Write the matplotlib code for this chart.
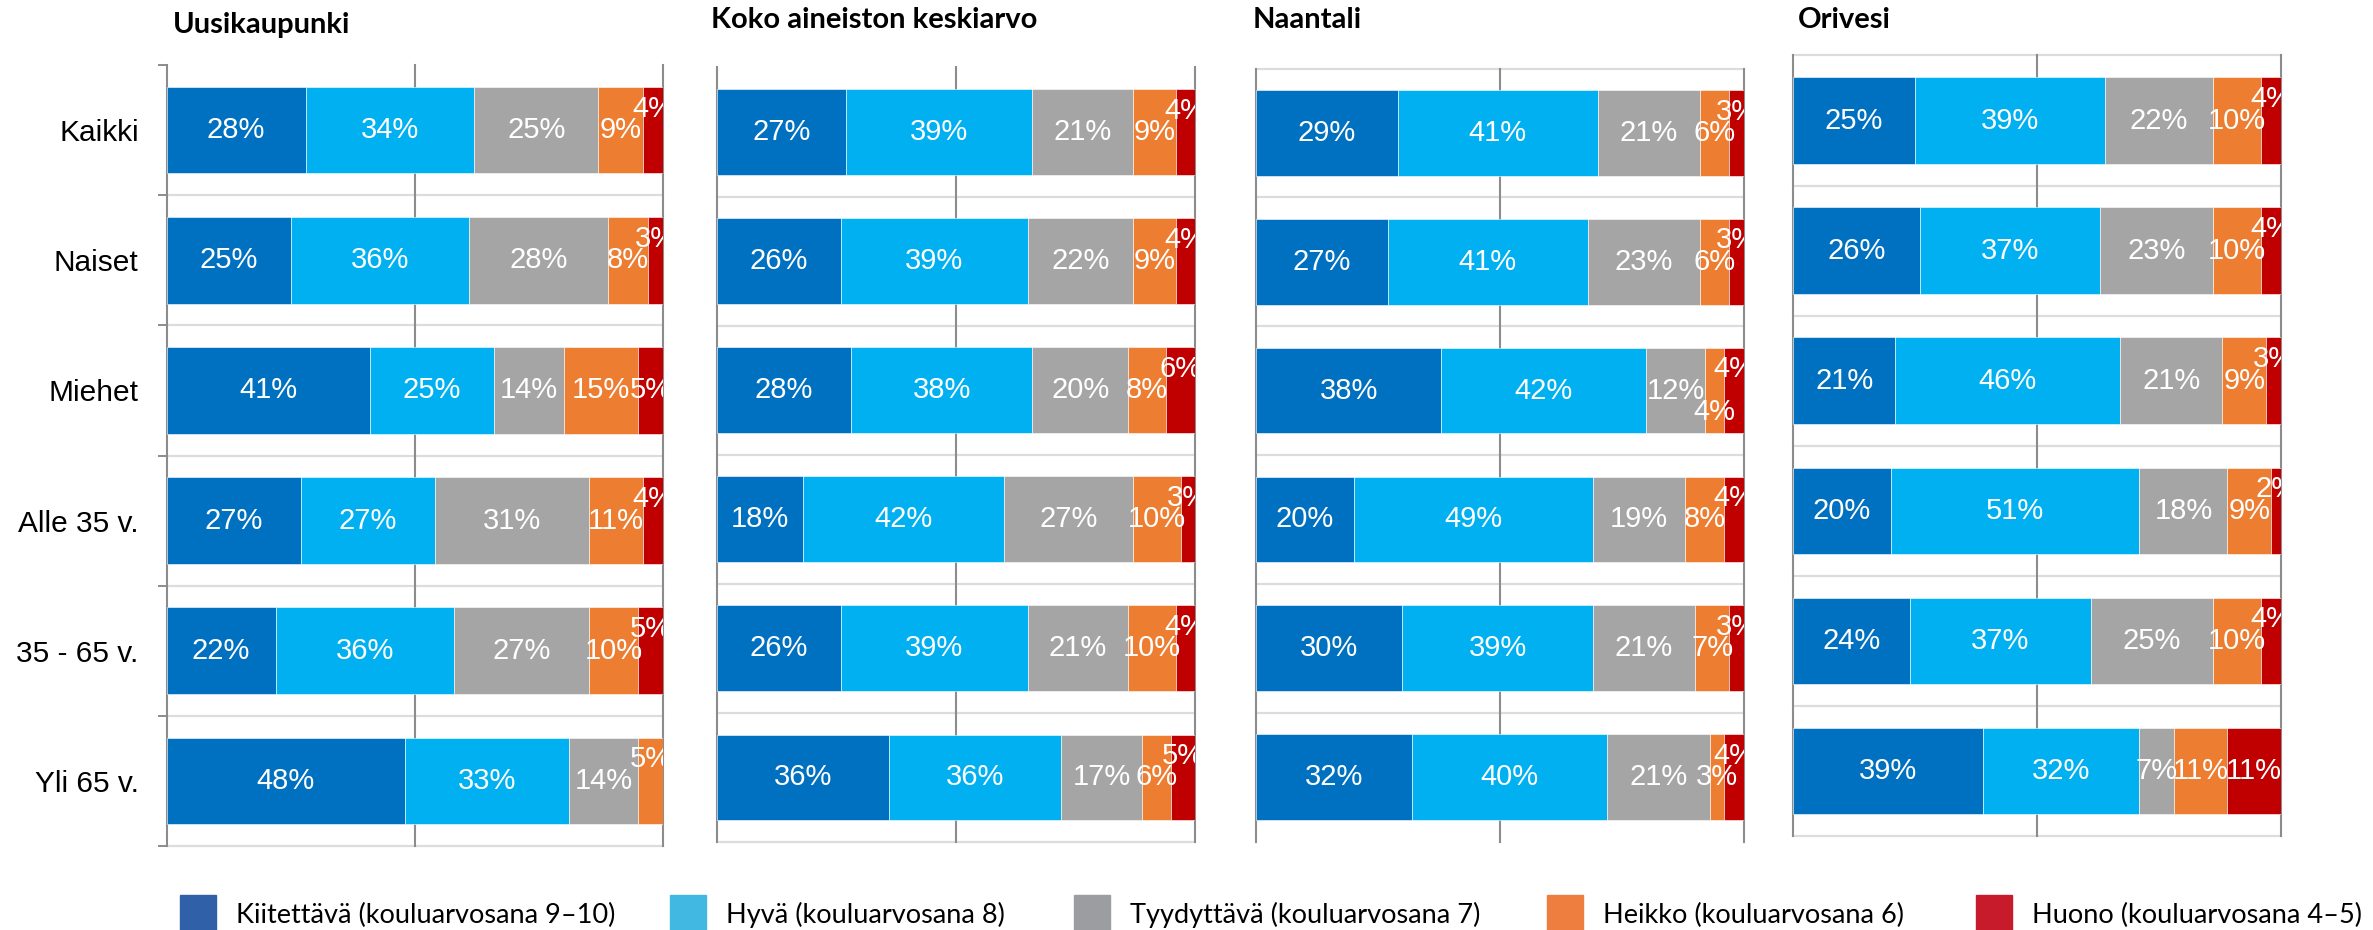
import numpy as np
import matplotlib.pyplot as plt
from matplotlib.patches import Rectangle

plt.rcParams['font.family'] = ['Liberation Sans', 'DejaVu Sans']

# Data
ryhmat = ['Kaikki', 'Naiset', 'Miehet', 'Alle 35 v.', '35 - 65 v.', 'Yli 65 v.']
luokat = ['Kiitettävä (kouluarvosana 9–10)', 'Hyvä (kouluarvosana 8)',
          'Tyydyttävä (kouluarvosana 7)', 'Heikko (kouluarvosana 6)',
          'Huono (kouluarvosana 4–5)']

otsikot = ['Uusikaupunki', 'Koko aineiston keskiarvo', 'Naantali', 'Orivesi']

uusikaupunki = [
    [28, 25, 41, 27, 22, 48],
    [34, 36, 25, 27, 36, 33],
    [25, 28, 14, 31, 27, 14],
    [9, 8, 15, 11, 10, 5],
    [4, 3, 5, 4, 5, 0],
]
koko = [
    [27, 26, 28, 18, 26, 36],
    [39, 39, 38, 42, 39, 36],
    [21, 22, 20, 27, 21, 17],
    [9, 9, 8, 10, 10, 6],
    [4, 4, 6, 3, 4, 5],
]
naantali = [
    [29, 27, 38, 20, 30, 32],
    [41, 41, 42, 49, 39, 40],
    [21, 23, 12, 19, 21, 21],
    [6, 6, 4, 8, 7, 3],
    [3, 3, 4, 4, 3, 4],
]
orivesi = [
    [25, 26, 21, 20, 24, 39],
    [39, 37, 46, 51, 37, 32],
    [22, 23, 21, 18, 25, 7],
    [10, 10, 9, 9, 10, 11],
    [4, 4, 3, 2, 4, 11],
]
aineistot = [uusikaupunki, koko, naantali, orivesi]

# labels that Excel nudged up (-1) or down (+1): (row, series)
siirrot = [
    {(0, 4): -1, (1, 4): -1, (3, 4): -1, (4, 4): -1, (5, 3): -1},
    {(r, 4): -1 for r in range(6)},
    {(0, 4): -1, (1, 4): -1, (2, 4): -1, (2, 3): 1, (3, 4): -1, (4, 4): -1, (5, 4): -1},
    {(0, 4): -1, (1, 4): -1, (2, 4): -1, (3, 4): -1, (4, 4): -1},
]

palkki_varit = ['#0070C0', '#00B0F0', '#A5A5A5', '#ED7D31', '#C00000']
selite_varit = ['#3060A8', '#40B8E2', '#9C9DA0', '#EE7D40', '#C71A2B']

W, H = 2373, 930
fig = plt.figure(figsize=(W / 100, H / 100), dpi=100)

# plot boxes in pixels: left, right, top, bottom
laatikot = [(166.5, 663, 65, 846), (717, 1195, 67.5, 842),
            (1256, 1744, 68.5, 841.5), (1793, 2281, 55.5, 836)]
otsikko_paikat = [(173, 33), (711, 28), (1253, 28), (1798, 28)]
ylaviiva = [False, False, True, True]
alaviiva = [True, True, False, True]

y = np.arange(len(ryhmat))

for p, (data, (l, r, t, b)) in enumerate(zip(aineistot, laatikot)):
    ax = fig.add_axes([l / W, 1 - b / H, (r - l) / W, (b - t) / H])
    vasen = np.zeros(len(ryhmat))
    for k, arvot in enumerate(data):
        arvot = np.array(arvot, dtype=float)
        ax.barh(y, arvot, left=vasen, height=0.665, color=palkki_varit[k],
                edgecolor='white', linewidth=0.4, zorder=2)
        for i, v in enumerate(arvot):
            if v <= 0:
                continue
            dy = 0.165 * siirrot[p].get((i, k), 0)
            ax.text(vasen[i] + v / 2, y[i] + dy, f'{int(v)}%', ha='center',
                    va='center', color='white', fontsize=21, zorder=3,
                    clip_on=True)
        vasen += arvot

    ax.set_xlim(0, 100)
    ax.set_ylim(len(ryhmat) - 0.5, -0.5)
    for x in (0, 50, 100):
        ax.axvline(x, color='#8c8c8c', lw=1.5, zorder=1, clip_on=False)
    rajat = list(np.arange(0.5, len(ryhmat) - 0.5))
    if ylaviiva[p]:
        rajat.append(-0.5)
    if alaviiva[p]:
        rajat.append(len(ryhmat) - 0.5)
    for yb in rajat:
        ax.axhline(yb, color='#dcdcdc', lw=1.6, zorder=0.5, clip_on=False)

    for s in ax.spines.values():
        s.set_visible(False)
    ax.set_xticks([])
    if p == 0:
        ax.set_yticks(y, labels=ryhmat, fontsize=21.5)
        ax.tick_params(axis='y', which='major', length=0, pad=20)
        ax.set_yticks(np.arange(-0.5, len(ryhmat)), minor=True)
        ax.tick_params(axis='y', which='minor', length=6.5, width=1.4,
                       color='#8c8c8c', direction='out')
    else:
        ax.set_yticks([])

    tx, ty = otsikko_paikat[p]
    fig.text(tx / W, 1 - ty / H, otsikot[p], fontsize=21, fontweight='bold',
             family=['Lato', 'DejaVu Sans'], ha='left', va='baseline')

# Legend
selite_x = [180, 670, 1074, 1547, 1976]
for nimi, vari, x in zip(luokat, selite_varit, selite_x):
    fig.add_artist(Rectangle((x / W, 1 - 931 / H), 36 / W, 36 / H,
                             transform=fig.transFigure, color=vari))
    fig.text((x + 56) / W, 1 - 923 / H, nimi, fontsize=19.5,
             family=['Lato', 'DejaVu Sans'], ha='left', va='baseline')

fig.savefig('out.png', dpi=100)
